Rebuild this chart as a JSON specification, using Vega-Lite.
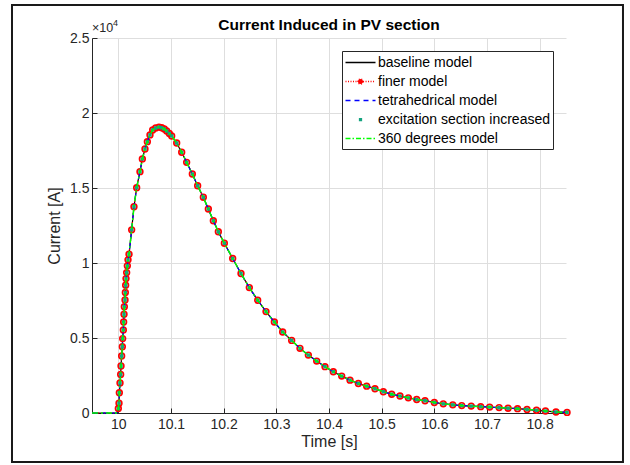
{
  "$schema": "https://vega.github.io/schema/vega-lite/v6.json",
  "width": 474,
  "height": 375,
  "autosize": {"type": "none"},
  "padding": {"left": 92, "top": 38, "right": 64, "bottom": 52},
  "background": "white",
  "config": {
    "view": {"stroke": null},
    "font": "Liberation Sans",
    "axis": {
      "domainColor": "#262626",
      "domainWidth": 1,
      "tickColor": "#262626",
      "tickSize": -5,
      "tickWidth": 1,
      "labelFont": "Liberation Sans",
      "labelFontSize": 14,
      "labelColor": "#262626",
      "titleFont": "Liberation Sans",
      "titleFontSize": 16,
      "titleFontWeight": "normal",
      "titleColor": "#262626",
      "grid": true,
      "gridColor": "#dedede",
      "gridWidth": 1
    }
  },
  "title": {
    "text": "Current Induced in PV section",
    "font": "Liberation Sans",
    "fontSize": 15.5,
    "fontWeight": "bold",
    "color": "#000000",
    "anchor": "middle",
    "baseline": "bottom",
    "offset": -44
  },
  "data": {
    "values": [
      {"t": 9.95, "v": 0},
      {"t": 9.998, "v": 0},
      {"t": 10.0, "v": 300},
      {"t": 10.0013, "v": 650},
      {"t": 10.0019, "v": 1350},
      {"t": 10.0032, "v": 2000},
      {"t": 10.0044, "v": 2570},
      {"t": 10.0051, "v": 3130},
      {"t": 10.0063, "v": 3800},
      {"t": 10.0076, "v": 4420},
      {"t": 10.0082, "v": 4960},
      {"t": 10.0095, "v": 5540},
      {"t": 10.0101, "v": 6070},
      {"t": 10.0108, "v": 6580},
      {"t": 10.0114, "v": 7090},
      {"t": 10.0127, "v": 7540},
      {"t": 10.0133, "v": 8030},
      {"t": 10.0139, "v": 8520},
      {"t": 10.0146, "v": 8960},
      {"t": 10.0158, "v": 9360},
      {"t": 10.0171, "v": 9810},
      {"t": 10.0184, "v": 10210},
      {"t": 10.0203, "v": 10590},
      {"t": 10.0253, "v": 12210},
      {"t": 10.0297, "v": 13750},
      {"t": 10.0348, "v": 15020},
      {"t": 10.0411, "v": 16090},
      {"t": 10.0456, "v": 16940},
      {"t": 10.0506, "v": 17600},
      {"t": 10.0551, "v": 18090},
      {"t": 10.0601, "v": 18540},
      {"t": 10.0652, "v": 18870},
      {"t": 10.0709, "v": 19000},
      {"t": 10.0772, "v": 19060},
      {"t": 10.0823, "v": 19020},
      {"t": 10.0873, "v": 18930},
      {"t": 10.0918, "v": 18800},
      {"t": 10.0968, "v": 18630},
      {"t": 10.1013, "v": 18470},
      {"t": 10.1108, "v": 18000},
      {"t": 10.1203, "v": 17380},
      {"t": 10.1297, "v": 16710},
      {"t": 10.1405, "v": 15930},
      {"t": 10.1506, "v": 15150},
      {"t": 10.1614, "v": 14380},
      {"t": 10.1709, "v": 13600},
      {"t": 10.1804, "v": 12820},
      {"t": 10.1899, "v": 12080},
      {"t": 10.2013, "v": 11320},
      {"t": 10.2171, "v": 10300},
      {"t": 10.2329, "v": 9300},
      {"t": 10.2487, "v": 8360},
      {"t": 10.2646, "v": 7520},
      {"t": 10.2804, "v": 6760},
      {"t": 10.2962, "v": 6070},
      {"t": 10.312, "v": 5400},
      {"t": 10.3291, "v": 4840},
      {"t": 10.3449, "v": 4310},
      {"t": 10.3608, "v": 3860},
      {"t": 10.3766, "v": 3460},
      {"t": 10.3924, "v": 3090},
      {"t": 10.4082, "v": 2750},
      {"t": 10.4241, "v": 2460},
      {"t": 10.4399, "v": 2190},
      {"t": 10.4557, "v": 1970},
      {"t": 10.4715, "v": 1790},
      {"t": 10.4873, "v": 1620},
      {"t": 10.5032, "v": 1420},
      {"t": 10.519, "v": 1250},
      {"t": 10.5348, "v": 1130},
      {"t": 10.5506, "v": 1010},
      {"t": 10.5665, "v": 900},
      {"t": 10.5823, "v": 820},
      {"t": 10.6, "v": 700},
      {"t": 10.617, "v": 610},
      {"t": 10.635, "v": 545},
      {"t": 10.652, "v": 495},
      {"t": 10.67, "v": 460},
      {"t": 10.688, "v": 425},
      {"t": 10.705, "v": 395},
      {"t": 10.723, "v": 360},
      {"t": 10.74, "v": 320},
      {"t": 10.758, "v": 290},
      {"t": 10.776, "v": 240},
      {"t": 10.794, "v": 180},
      {"t": 10.811, "v": 130},
      {"t": 10.831, "v": 70},
      {"t": 10.852, "v": 40}
    ]
  },
  "layer": [
    {
      "mark": {"type": "line", "strokeWidth": 1.2},
      "encoding": {
        "x": {
          "field": "t",
          "type": "quantitative",
          "scale": {"domain": [9.95, 10.85], "nice": false, "zero": false},
          "axis": {
            "values": [10, 10.1, 10.2, 10.3, 10.4, 10.5, 10.6, 10.7, 10.8],
            "format": "~g",
            "labelPadding": 9,
            "title": "Time [s]",
            "titleY": 28,
            "titleBaseline": "middle"
          }
        },
        "y": {
          "field": "v",
          "type": "quantitative",
          "scale": {"domain": [0, 25000], "nice": false},
          "axis": {
            "values": [0, 5000, 10000, 15000, 20000, 25000],
            "labelExpr": "format(datum.value / 10000, '~g')",
            "labelPadding": 8,
            "title": "Current [A]",
            "titleX": -30,
            "titleY": 187.5,
            "titleBaseline": "bottom"
          }
        },
        "color": {
          "datum": "baseline model",
          "type": "nominal",
          "scale": {
            "domain": ["baseline model", "finer model", "tetrahedrical model", "excitation section increased", "360 degrees model"],
            "range": ["#000000", "#ff0000", "#0000ff", "#14a37f", "#00ff00"]
          },
          "legend": {
            "orient": "none",
            "legendX": 250,
            "legendY": 13,
            "title": null,
            "padding": 3,
            "strokeColor": "#262626",
            "fillColor": "white",
            "labelFont": "Liberation Sans",
            "labelFontSize": 14,
            "labelColor": "#000000",
            "labelLimit": 300,
            "symbolSize": 225,
            "symbolOffset": 7,
            "labelOffset": 9,
            "rowPadding": 3,
            "symbolStrokeWidth": 1.3,
            "encode": {
              "symbols": {
                "update": {
                  "shape": {"signal": "datum.value === 'finer model' ? 'M-2,0H-0.34M0.34,0H2M0.34,0A0.34,0.34 0 1,1 -0.34,0A0.34,0.34 0 1,1 0.34,0' : datum.value === 'excitation section increased' ? 'M-0.13,-0.13H0.13V0.13H-0.13Z' : 'M-2,0H2'"},
                  "stroke": {"signal": "scale('color', datum.value)"},
                  "fill": {"signal": "datum.value === 'excitation section increased' ? scale('color', datum.value) : 'transparent'"},
                  "strokeDash": {"signal": "datum.value === 'finer model' ? [1, 1.5] : datum.value === 'tetrahedrical model' ? [5, 4] : datum.value === '360 degrees model' ? [5, 2, 1.5, 2] : [1, 0]"},
                  "opacity": {"value": 1}
                }
              }
            }
          }
        }
      }
    },
    {
      "mark": {"type": "line", "strokeWidth": 1.2, "strokeDash": [1, 2]},
      "encoding": {
        "x": {"field": "t", "type": "quantitative"},
        "y": {"field": "v", "type": "quantitative"},
        "color": {"datum": "finer model", "type": "nominal"}
      }
    },
    {
      "transform": [{"filter": "datum.v > 0"}],
      "mark": {"type": "point", "shape": "circle", "filled": false, "size": 32, "strokeWidth": 1.7, "opacity": 1},
      "encoding": {
        "x": {"field": "t", "type": "quantitative"},
        "y": {"field": "v", "type": "quantitative"},
        "color": {"datum": "finer model", "type": "nominal"}
      }
    },
    {
      "mark": {"type": "line", "strokeWidth": 1.2, "strokeDash": [6, 4]},
      "encoding": {
        "x": {"field": "t", "type": "quantitative"},
        "y": {"field": "v", "type": "quantitative"},
        "color": {"datum": "tetrahedrical model", "type": "nominal"}
      }
    },
    {
      "transform": [{"filter": "datum.v > 0"}],
      "mark": {"type": "point", "shape": "square", "filled": true, "size": 12, "opacity": 1},
      "encoding": {
        "x": {"field": "t", "type": "quantitative"},
        "y": {"field": "v", "type": "quantitative"},
        "color": {"datum": "excitation section increased", "type": "nominal"}
      }
    },
    {
      "mark": {"type": "line", "strokeWidth": 1.5, "strokeDash": [6, 3, 2, 3]},
      "encoding": {
        "x": {"field": "t", "type": "quantitative"},
        "y": {"field": "v", "type": "quantitative"},
        "color": {"datum": "360 degrees model", "type": "nominal"}
      }
    },
    {
      "data": {"values": [{"label": "×10"}]},
      "mark": {"type": "text", "align": "left", "baseline": "bottom", "dy": -3, "fontSize": 12.5, "font": "Liberation Sans", "color": "#262626"},
      "encoding": {
        "x": {"datum": 9.95, "type": "quantitative"},
        "y": {"datum": 25000, "type": "quantitative"},
        "text": {"field": "label"}
      }
    },
    {
      "data": {"values": [{"label": "4"}]},
      "mark": {"type": "text", "align": "left", "baseline": "bottom", "dx": 21, "dy": -10, "fontSize": 9, "font": "Liberation Sans", "color": "#262626"},
      "encoding": {
        "x": {"datum": 9.95, "type": "quantitative"},
        "y": {"datum": 25000, "type": "quantitative"},
        "text": {"field": "label"}
      }
    },
    {
      "data": {"values": [{"frame": "figure"}]},
      "mark": {"type": "rect", "fill": "white", "fillOpacity": 0, "stroke": "#1a1a1a", "strokeWidth": 2},
      "encoding": {
        "x": {"datum": 9.7981, "type": "quantitative"},
        "x2": {"datum": 10.9582},
        "y": {"datum": 27200, "type": "quantitative"},
        "y2": {"datum": -3267}
      }
    }
  ]
}
